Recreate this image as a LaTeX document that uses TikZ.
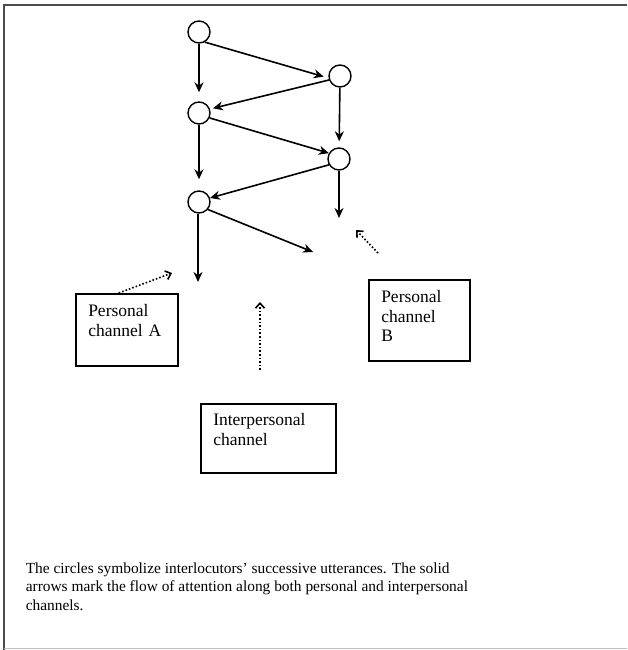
\documentclass[tikz,border=0pt]{standalone}
\usepackage{fontspec}
\setmainfont{Liberation Serif}
\usetikzlibrary{arrows.meta}

\begin{document}
\begin{tikzpicture}[x=1pt,y=-1pt,>={Stealth[length=10pt,width=9pt]},line width=1.6pt,
    utt/.style={circle,draw,line width=1.4pt,minimum size=22pt,inner sep=0pt},
    chan/.style={draw,rectangle,line width=1.5pt,align=left,anchor=north west,inner xsep=12.5pt,inner ysep=11pt,
      font=\fontsize{17.5}{19.5}\selectfont},
    hint/.style={dotted,line width=1.6pt,-{Straight Barb[length=5pt,width=9pt]}}]
    \useasboundingbox (0,0) rectangle (627,650);
    % frame of the page
    \draw[line width=2.2pt,black!70] (627,5) -- (4,5) -- (4,650);
    \draw[line width=1pt,black!25] (4,648) -- (627,648);

    % utterances
    \node[utt] (c1) at (199,32) {};
    \node[utt] (c2) at (340,76) {};
    \node[utt] (c3) at (199,113) {};
    \node[utt] (c4) at (339,159) {};
    \node[utt] (c5) at (199,202) {};
    \coordinate (d4) at (339,218);
    \coordinate (d5) at (198,282);
    \coordinate (e5) at (313,252);

    \draw[->] (c1) -- (c3) [shorten >=9pt];
    \draw[->] (c2) -- (c4) [shorten >=6pt];
    \draw[->] (c3) -- (c5) [shorten >=11pt];
    \draw[->] (c4) -- (d4);
    \draw[->] (c5.south) ++(-1,0) -- (d5);
    \draw[->] (c1.-60) -- (c2.190) [shorten >=5pt];
    \draw[->] (c2.200) -- (c3.20) [shorten >=3pt];
    \draw[->] (c3.-25) -- (c4.150);
    \draw[->] (c4.210) -- (c5.20);
    \draw[->] (c5.-40) -- (e5);

    % channels
    \node[chan,text width=77pt,text depth=38pt] (chanA) at (75,293) {Personal\\channel A};
    \node[chan,text width=76pt,text depth=47pt] (chanB) at (368,279) {Personal\\channel\\B};
    \node[chan,text width=110pt,text depth=37pt,inner ysep=10pt] (inter) at (200,403) {Interpersonal\\channel};

    \coordinate (a1) at (172,273);
    \coordinate (i0) at (260,370);
    \coordinate (i1) at (260,302);
    \coordinate (b0) at (378,253);
    \coordinate (b1) at (356,230);
    \draw[hint] ([xshift=-8pt]chanA.north) -- (a1);
    \draw[hint] (i0) -- (i1);
    \draw[hint] (b0) -- (b1);

    \node[anchor=north west,inner sep=0pt,align=left,font=\fontsize{15.4}{18.5}\selectfont] (note) at (25,562)
      {The circles symbolize interlocutors' successive utterances. The solid\\
       arrows mark the flow of attention along both personal and interpersonal\\
       channels.};
\end{tikzpicture}
\end{document}
